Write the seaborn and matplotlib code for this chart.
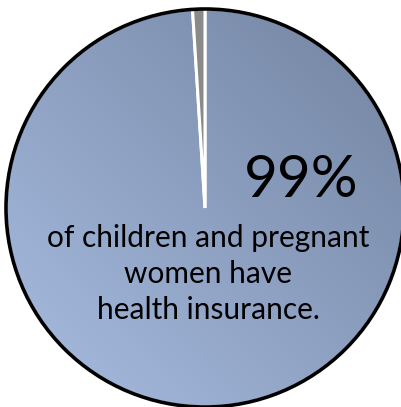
import numpy as np
import matplotlib
matplotlib.use("Agg")
import matplotlib.pyplot as plt
import seaborn as sns
from matplotlib.colors import LinearSegmentedColormap

sns.set_theme(style="white")
plt.rcParams['font.family'] = ['Lato', 'DejaVu Sans']

categories = ["Uninsured", "Insured"]
values = [1, 99]
headline = "99%"
caption_lines = ["of children and pregnant", "women have", "health insurance."]

W, H = 402, 407
fig = plt.figure(figsize=(W / 100, H / 100), dpi=100)
ax = fig.add_axes([0, 0, 1, 1])

cx, cy, r = 205, H - 208, 199
wedges, _ = ax.pie(values, colors=["#8a8a8a", "none"], startangle=90,
                   counterclock=True, radius=r, center=(cx, cy),
                   wedgeprops=dict(edgecolor="white", linewidth=2.2), frame=True)

# gradient fill for main wedge
cmap = LinearSegmentedColormap.from_list("g", ["#a8bde2", "#7283a0"])
xx, yy = np.meshgrid(np.linspace(0, 1, 200), np.linspace(0, 1, 200))
grad = (xx + yy) / 2
im = ax.imshow(grad, cmap=cmap, extent=[cx - r, cx + r, cy - r, cy + r],
               origin='lower', zorder=0.5)
im.set_clip_path(wedges[1])
wedges[1].set_zorder(1)
wedges[0].set_zorder(1.5)

circ = plt.Circle((cx, cy), r, fill=False, edgecolor="black", linewidth=2.6, zorder=3)
ax.add_patch(circ)
ax.set_xlim(0, W)
ax.set_ylim(0, H)
ax.set_aspect('equal')
ax.axis('off')

ax.text(301, H - 180, headline, fontsize=42, color="black", ha="center", va="center", zorder=4)
ys = [238, 274, 310]
for line, y in zip(caption_lines, ys):
    ax.text(208, H - y, line, fontsize=21.5, color="black", ha="center", va="center", zorder=4)

fig.savefig("out.png", dpi=100)
